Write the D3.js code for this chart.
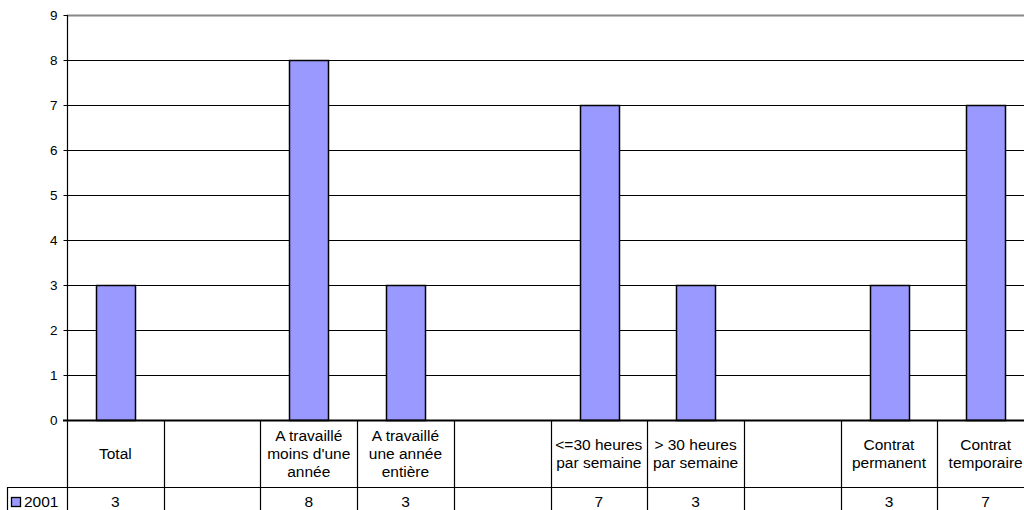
<!DOCTYPE html>
<html>
<head>
<meta charset="utf-8">
<script src="https://cdn.jsdelivr.net/npm/d3@7"></script>
<style>
  body { margin: 0; background: #fff; }
  text { font-family: "Liberation Sans", Arial, sans-serif; fill: #000; }
</style>
</head>
<body>
<svg id="chart" width="1024" height="510"></svg>
<script>
// Data
const categories = [
  "Total", "", "A travaillé\nmoins d'une\nannée", "A travaillé\nune année\nentière", "",
  "<=30 heures\npar semaine", "> 30 heures\npar semaine", "", "Contrat\npermanent", "Contrat\ntemporaire"
];
const values2001 = [3, null, 8, 3, null, 7, 3, null, 3, 7];
const seriesName = "2001";
const yTicks = [0, 1, 2, 3, 4, 5, 6, 7, 8, 9];

const barColor = "#9999ff";
const tableFont = 15.5;

const svg = d3.select("#chart"),
  margin = {top: 15, left: 67, right: -10},
  plotBottom = 420,
  row1Bottom = 487,
  tableBottom = 520,
  width = +svg.attr("width");

const x = d3.scaleBand()
  .domain(d3.range(categories.length))
  .range([margin.left, width - margin.right])
  .paddingInner(0.6)
  .paddingOuter(0.3);

const y = d3.scaleLinear()
  .domain([0, 9])
  .range([plotBottom, margin.top]);

const step = x.step();
const cellLeft = i => margin.left + i * step;

// Gridlines
svg.append("g")
  .selectAll("line")
  .data(yTicks.filter(d => d > 0))
  .join("line")
    .attr("x1", margin.left)
    .attr("x2", width)
    .attr("y1", d => Math.round(y(d)) + 0.5)
    .attr("y2", d => Math.round(y(d)) + 0.5)
    .attr("stroke", d => d === 9 ? "#888" : "#000")
    .attr("stroke-width", d => d === 9 ? 2 : 1);

// Y axis
const yAxis = svg.append("g")
  .attr("transform", `translate(${margin.left + 0.5},0)`)
  .call(d3.axisLeft(y).tickValues(yTicks).tickSize(4).tickPadding(6).tickFormat(d3.format("d")));
yAxis.select(".domain").remove();
yAxis.selectAll(".tick line").attr("stroke", "#000");
yAxis.selectAll(".tick text").attr("font-size", 13.5).attr("font-family", "Liberation Sans, Arial, sans-serif");

// Bars
svg.append("g")
  .selectAll("rect")
  .data(values2001.map((v, i) => ({v, i})).filter(d => d.v != null))
  .join("rect")
    .attr("x", d => Math.round(x(d.i)) + 0.5)
    .attr("y", d => Math.round(y(d.v)) + 0.5)
    .attr("width", Math.round(x.bandwidth()))
    .attr("height", d => Math.round(y(0)) - Math.round(y(d.v)))
    .attr("fill", barColor)
    .attr("stroke", "#000")
    .attr("stroke-width", 1.5);

// Axis line + table borders
const lines = svg.append("g").attr("stroke", "#000").attr("stroke-width", 1.2);
lines.append("line")
  .attr("x1", margin.left + 0.5).attr("x2", margin.left + 0.5)
  .attr("y1", margin.top).attr("y2", tableBottom);
lines.append("line")
  .attr("x1", margin.left - 4).attr("x2", width)
  .attr("y1", plotBottom + 0.5).attr("y2", plotBottom + 0.5)
  .attr("stroke-width", 2);
lines.append("line")
  .attr("x1", 7).attr("x2", width)
  .attr("y1", row1Bottom + 0.5).attr("y2", row1Bottom + 0.5);
lines.append("line")
  .attr("x1", 7.5).attr("x2", 7.5)
  .attr("y1", row1Bottom).attr("y2", tableBottom);
lines.selectAll("line.sep")
  .data(d3.range(1, categories.length + 1))
  .join("line")
    .attr("class", "sep")
    .attr("x1", i => Math.round(cellLeft(i)) + 0.5)
    .attr("x2", i => Math.round(cellLeft(i)) + 0.5)
    .attr("y1", plotBottom)
    .attr("y2", tableBottom);

// Category labels (header row)
const lineH = 18;
const rowMid = (plotBottom + row1Bottom) / 2;
const labels = svg.append("g")
  .attr("font-size", tableFont)
  .attr("text-anchor", "middle");
categories.forEach((c, i) => {
  if (!c) return;
  const parts = c.split("\n");
  const cx = cellLeft(i) + step / 2;
  labels.append("text")
    .selectAll("tspan")
    .data(parts)
    .join("tspan")
      .attr("x", cx)
      .attr("y", (d, j) => rowMid + (j - (parts.length - 1) / 2) * lineH + 5)
      .text(d => d);
});

// Value row
svg.append("g")
  .attr("font-size", tableFont)
  .attr("text-anchor", "middle")
  .selectAll("text")
  .data(values2001.map((v, i) => ({v, i})).filter(d => d.v != null))
  .join("text")
    .attr("x", d => cellLeft(d.i) + step / 2)
    .attr("y", 507)
    .text(d => d.v);

// Legend key
svg.append("rect")
  .attr("x", 11.5).attr("y", 497.5)
  .attr("width", 9).attr("height", 9)
  .attr("fill", barColor)
  .attr("stroke", "#000")
  .attr("stroke-width", 1.3);
svg.append("text")
  .attr("x", 24).attr("y", 507)
  .attr("font-size", tableFont)
  .text(seriesName);
</script>
</body>
</html>
